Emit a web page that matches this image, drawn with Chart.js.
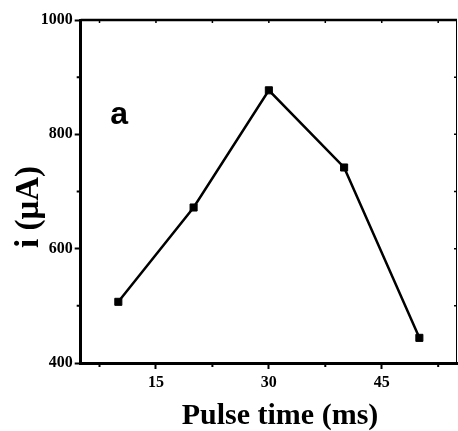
<!DOCTYPE html>
<html>
<head>
<meta charset="utf-8">
<script src="https://cdn.jsdelivr.net/npm/chart.js@4/dist/chart.umd.min.js"></script>
<style>
  html, body { margin: 0; padding: 0; background: #fff; }
  #wrap { width: 458px; height: 431px; }
</style>
</head>
<body>
<div id="wrap"><canvas id="pulseChart" width="458" height="431"></canvas></div>
<script>
// pulse time (ms) vs current (uA)
const pulseTimes = [10, 20, 30, 40, 50];
const currents = [507, 672, 877, 742, 444];

const xMajorTicks = [15, 30, 45];
const xMinorTicks = [7.5, 22.5, 37.5, 52.5];
const yMajorTicks = [400, 600, 800, 1000];
const yMinorTicks = [500, 700, 900];

// frame, minor ticks, axis titles and panel letter
const framePlugin = {
  id: "frame",
  afterDraw(chart) {
    const { ctx, chartArea: a, scales } = chart;
    const xs = scales.x, ys = scales.y;
    ctx.save();
    ctx.strokeStyle = "#000";

    // top and right edges
    ctx.lineWidth = 2.5;
    ctx.beginPath();
    ctx.moveTo(a.left, a.top);
    ctx.lineTo(a.right, a.top);
    ctx.stroke();
    ctx.lineWidth = 1;
    ctx.beginPath();
    ctx.moveTo(a.right - 0.5, a.top);
    ctx.lineTo(a.right - 0.5, a.bottom);
    ctx.stroke();

    // minor ticks, outward on bottom/left
    ctx.lineWidth = 2;
    ctx.beginPath();
    xMinorTicks.forEach(v => {
      const px = xs.getPixelForValue(v);
      ctx.moveTo(px, a.bottom);
      ctx.lineTo(px, a.bottom + 4);
    });
    yMinorTicks.forEach(v => {
      const py = ys.getPixelForValue(v);
      ctx.moveTo(a.left, py);
      ctx.lineTo(a.left - 4, py);
    });
    ctx.stroke();

    // inward ticks on top/right
    ctx.lineWidth = 1.5;
    ctx.beginPath();
    xMajorTicks.concat(xMinorTicks).forEach(v => {
      const px = xs.getPixelForValue(v);
      ctx.moveTo(px, a.top);
      ctx.lineTo(px, a.top + 3);
    });
    yMajorTicks.concat(yMinorTicks).forEach(v => {
      const py = ys.getPixelForValue(v);
      ctx.moveTo(a.right, py);
      ctx.lineTo(a.right - 3, py);
    });
    ctx.stroke();

    // axis titles
    ctx.fillStyle = "#000";
    ctx.textAlign = "center";
    ctx.textBaseline = "alphabetic";
    ctx.font = "bold 30px 'Liberation Serif', 'Times New Roman', serif";
    ctx.fillText("Pulse time (ms)", 280, 424);

    ctx.save();
    ctx.translate(38, 207);
    ctx.rotate(-Math.PI / 2);
    ctx.font = "bold 33px 'Liberation Serif', 'Times New Roman', serif";
    ctx.fillText("i (\u03BCA)", 0, 0);
    ctx.restore();

    // panel letter
    ctx.font = "bold 32px 'Liberation Sans', Arial, sans-serif";
    ctx.fillText("a", xs.getPixelForValue(10.1), ys.getPixelForValue(818));
    ctx.restore();
  }
};

const tickFont = { family: "'Liberation Serif', 'Times New Roman', serif", size: 16, weight: "bold" };

new Chart(document.getElementById("pulseChart"), {
  type: "line",
  data: {
    datasets: [{
      data: pulseTimes.map((t, i) => ({ x: t, y: currents[i] })),
      borderColor: "#000",
      borderWidth: 2.5,
      tension: 0,
      pointStyle: "rect",
      pointRadius: 5,
      pointBorderWidth: 1,
      pointBackgroundColor: "#000",
      pointBorderColor: "#000"
    }]
  },
  options: {
    responsive: false,
    animation: false,
    layout: { autoPadding: false, padding: { top: 20, right: 1, left: 0, bottom: 0 } },
    plugins: {
      legend: { display: false },
      tooltip: { enabled: false }
    },
    scales: {
      x: {
        type: "linear",
        min: 5,
        max: 55,
        afterBuildTicks: s => { s.ticks = xMajorTicks.map(v => ({ value: v })); },
        afterFit: s => { s.height = 68; s.paddingLeft = 0; s.paddingRight = 0; },
        ticks: {
          color: "#000",
          font: tickFont,
          padding: 4,
          maxRotation: 0,
          callback: v => String(v)
        },
        grid: { drawOnChartArea: false, tickLength: 6, tickWidth: 2, tickColor: "#000" },
        border: { display: true, width: 3, color: "#000" }
      },
      y: {
        min: 400,
        max: 1000,
        afterBuildTicks: s => { s.ticks = yMajorTicks.map(v => ({ value: v })); },
        afterFit: s => { s.width = 80.7; s.paddingTop = 0; s.paddingBottom = 0; },
        ticks: {
          color: "#000",
          font: tickFont,
          padding: 2,
          callback: v => String(v)
        },
        grid: { drawOnChartArea: false, tickLength: 6, tickWidth: 2, tickColor: "#000" },
        border: { display: true, width: 3, color: "#000" }
      }
    }
  },
  plugins: [framePlugin]
});
</script>
</body>
</html>
